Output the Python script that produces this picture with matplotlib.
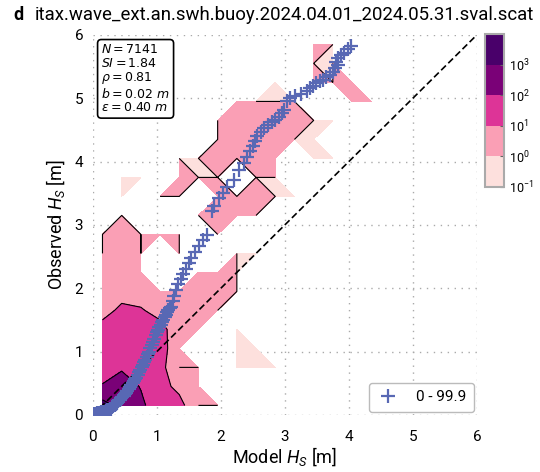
import numpy as np
import matplotlib.pyplot as plt
from matplotlib.lines import Line2D

plt.rcParams['font.family'] = ['Roboto', 'DejaVu Sans']
plt.rcParams['mathtext.fontset'] = 'custom'
plt.rcParams['mathtext.rm'] = 'Roboto'
plt.rcParams['mathtext.it'] = 'Roboto:italic'
plt.rcParams['mathtext.bf'] = 'Roboto:bold'

title = 'itax.wave_ext.an.swh.buoy.2024.04.01_2024.05.31.sval.scat'
panel = 'd'

# 2d histogram of (model, observed) Hs, 0.3 m bins, rows from top (5.85 m) to bottom (0.15 m)
hist_counts = [
    [0, 0, 0, 0, 0, 0, 0, 0, 0, 0, 0, 2, 1, 0, 0, 0, 0, 0, 0, 0],
    [0, 0, 0, 0, 0, 0, 0, 0, 0, 0, 0, 1, 1, 0, 0, 0, 0, 0, 0, 0],
    [0, 0, 0, 0, 0, 0, 0, 0, 0, 1, 0, 2, 1, 2, 0, 0, 0, 0, 0, 0],
    [0, 0, 0, 0, 0, 0, 0, 2, 1, 1, 1, 0, 0, 2, 2, 0, 0, 0, 0, 0],
    [0, 0, 0, 0, 0, 0, 1, 4, 4, 3, 2, 1, 1, 0, 0, 0, 0, 0, 0, 0],
    [0, 0, 0, 0, 0, 0, 1, 3, 4, 3, 1, 1, 0, 0, 0, 0, 0, 0, 0, 0],
    [0, 0, 0, 0, 1, 1, 2, 1, 3, 3, 0, 1, 1, 0, 0, 0, 0, 0, 0, 0],
    [0, 1, 1, 0, 2, 1, 1, 0, 1, 1, 0, 0, 0, 0, 0, 0, 0, 0, 0, 0],
    [0, 1, 0, 1, 1, 0, 2, 1, 2, 1, 1, 0, 0, 0, 0, 0, 0, 0, 0, 0],
    [0, 1, 0, 0, 0, 1, 3, 3, 1, 0, 0, 0, 0, 0, 0, 0, 0, 0, 0, 0],
    [1, 2, 1, 2, 1, 0, 1, 0, 0, 0, 0, 0, 0, 0, 0, 0, 0, 0, 0, 0],
    [1, 3, 1, 0, 1, 0, 0, 1, 1, 0, 0, 0, 0, 0, 0, 0, 0, 0, 0, 0],
    [3, 4, 3, 0, 0, 2, 2, 1, 0, 0, 0, 0, 0, 0, 0, 0, 0, 0, 0, 0],
    [4, 5, 4, 2, 2, 3, 3, 1, 0, 0, 0, 0, 0, 0, 0, 0, 0, 0, 0, 0],
    [5, 15, 12, 5, 3, 3, 1, 0, 0, 0, 0, 0, 0, 0, 0, 0, 0, 0, 0, 0],
    [20, 30, 25, 20, 3, 2, 0, 1, 0, 0, 0, 0, 0, 0, 0, 0, 0, 0, 0, 0],
    [35, 40, 40, 22, 3, 0, 0, 1, 1, 0, 0, 0, 0, 0, 0, 0, 0, 0, 0, 0],
    [55, 80, 50, 25, 1, 1, 0, 1, 1, 1, 0, 0, 0, 0, 0, 0, 0, 0, 0, 0],
    [110, 250, 90, 25, 5, 3, 0, 0, 0, 0, 0, 0, 0, 0, 0, 0, 0, 0, 0, 0],
    [2500, 450, 150, 30, 25, 1, 1, 0, 0, 0, 0, 0, 0, 0, 0, 0, 0, 0, 0, 0],
]
bin_width = 0.3

# quantiles 0 - 99.9 %
model_q = [0.02, 0.04, 0.06, 0.08, 0.10, 0.12, 0.14, 0.16, 0.18, 0.20, 0.22, 0.24, 0.26,
           0.28, 0.30, 0.32, 0.34, 0.36, 0.38, 0.40, 0.42, 0.44, 0.46, 0.48, 0.50, 0.52,
           0.54, 0.56, 0.58, 0.60, 0.62, 0.64, 0.66, 0.68, 0.70, 0.72, 0.74, 0.76, 0.78,
           0.80, 0.82, 0.84, 0.86, 0.88, 0.90, 0.92, 0.94, 0.96, 0.98, 1.00, 1.02, 1.04,
           1.06, 1.08, 1.10, 1.12, 1.14, 1.16, 1.18, 1.20, 1.22,
           1.25, 1.27, 1.30, 1.33, 1.37, 1.41, 1.46, 1.50, 1.54, 1.60, 1.66, 1.72, 1.78,
           1.86, 1.90, 1.97, 2.03, 2.10, 2.20, 2.28, 2.36, 2.41, 2.46, 2.51, 2.54, 2.57,
           2.62, 2.67, 2.74, 2.80, 2.85, 2.91, 2.95, 2.99, 3.03, 3.08, 3.16, 3.26, 3.34,
           3.39, 3.44, 3.49, 3.55, 3.60, 3.65, 3.70, 3.75, 3.78, 3.83, 3.80, 3.83, 3.88,
           3.93, 3.99, 4.04]
obs_q = [0.02, 0.02, 0.03, 0.03, 0.03, 0.04, 0.04, 0.05, 0.05, 0.06, 0.07, 0.08, 0.09,
         0.10, 0.12, 0.14, 0.16, 0.17, 0.19, 0.22, 0.24, 0.26, 0.28, 0.30, 0.33, 0.35,
         0.38, 0.41, 0.44, 0.47, 0.50, 0.53, 0.56, 0.59, 0.63, 0.67, 0.71, 0.75, 0.79,
         0.83, 0.87, 0.91, 0.96, 1.00, 1.05, 1.10, 1.15, 1.20, 1.26, 1.31, 1.34, 1.38,
         1.42, 1.46, 1.50, 1.54, 1.58, 1.62, 1.65, 1.68, 1.71,
         1.80, 1.88, 1.98, 2.06, 2.15, 2.22, 2.31, 2.40, 2.48, 2.58, 2.67, 2.76, 2.84,
         3.22, 3.30, 3.42, 3.50, 3.60, 3.71, 3.87, 3.98, 4.08, 4.16, 4.24, 4.32, 4.40,
         4.47, 4.53, 4.58, 4.62, 4.66, 4.71, 4.76, 4.82, 4.95, 5.00, 5.03, 5.06, 5.11,
         5.16, 5.19, 5.24, 5.27, 5.29, 5.34, 5.37, 5.42, 5.48, 5.53, 5.58, 5.63, 5.69,
         5.71, 5.77, 5.82]

stats = ['$N = 7141$', '$SI = 1.84$', r'$\rho = 0.81$', r'$b = 0.02\ m$', r'$\epsilon = 0.40\ m$']
quantile_label = '0 - 99.9'

log_levels = [-1, 0, 1, 2, 3, 4]
level_colors = ['#fde0dd', '#fa9fb5', '#dd3497', '#7a0177', '#49006a']
marker_color = '#5868b4'

counts = np.array(hist_counts[::-1], dtype=float)
n = counts.shape[0]
centers = bin_width / 2 + bin_width * np.arange(n)
z = np.log10(np.ma.masked_equal(counts, 0))

fig = plt.figure(figsize=(5.4, 4.72), dpi=100)
ax = fig.add_axes([0.172, 0.121, 0.711, 0.805])

cf = ax.contourf(centers, centers, z, levels=log_levels, colors=level_colors, corner_mask=True)
ax.contour(centers, centers, z, levels=log_levels[1:-1], colors='k', linewidths=0.8, corner_mask=True)

ax.plot([0, 6], [0, 6], ls=(0, (4, 2)), color='k', lw=1.2)
ax.plot(model_q, obs_q, ls='none', marker='+', ms=10, mew=1.6, color=marker_color)

ax.set_xlim(0, 6)
ax.set_ylim(0, 6)
ax.set_xticks(range(7))
ax.set_yticks(range(7))
ax.tick_params(length=0, labelsize=11)
ax.tick_params(axis='x', pad=11)
ax.tick_params(axis='y', pad=7)
for s in ax.spines.values():
    s.set_visible(False)
ax.grid(True, ls=(0, (1, 4)), color='#aaaaaa', lw=1)
ax.set_axisbelow(True)
ax.set_xlabel('Model $H_S$ [m]', fontsize=13, labelpad=1)
ax.set_ylabel('Observed $H_S$ [m]', fontsize=13, labelpad=5)
ax.set_title(title, fontsize=13.4, pad=11)
fig.text(0.025, 0.968, panel, fontsize=13, fontweight='bold', va='center')

ax.text(0.022, 0.978, '\n'.join(stats), transform=ax.transAxes, va='top', ha='left',
        fontsize=9, math_fontfamily='dejavusans', linespacing=1.05,
        bbox=dict(boxstyle='round,pad=0.3', fc='white', ec='k', lw=1.2))

h = Line2D([], [], ls='none', marker='+', ms=10, mew=1.6, color=marker_color)
leg = ax.legend([h], [quantile_label], loc='lower right', fontsize=11, borderaxespad=0.2,
                handlelength=1.6, handletextpad=1.0, borderpad=0.5, fancybox=True, framealpha=1)
leg.get_frame().set_edgecolor('#bbbbbb')

cax = fig.add_axes([0.898, 0.604, 0.035, 0.324])
cb = fig.colorbar(cf, cax=cax, ticks=log_levels[:-1])
cb.ax.set_yticklabels(['$10^{%d}$' % v for v in log_levels[:-1]])
cb.ax.tick_params(labelsize=9, length=3, direction='in', color='#666666')
cb.outline.set_edgecolor('#aaaaaa')
cb.outline.set_linewidth(1.5)

fig.savefig('out.png', dpi=100)
